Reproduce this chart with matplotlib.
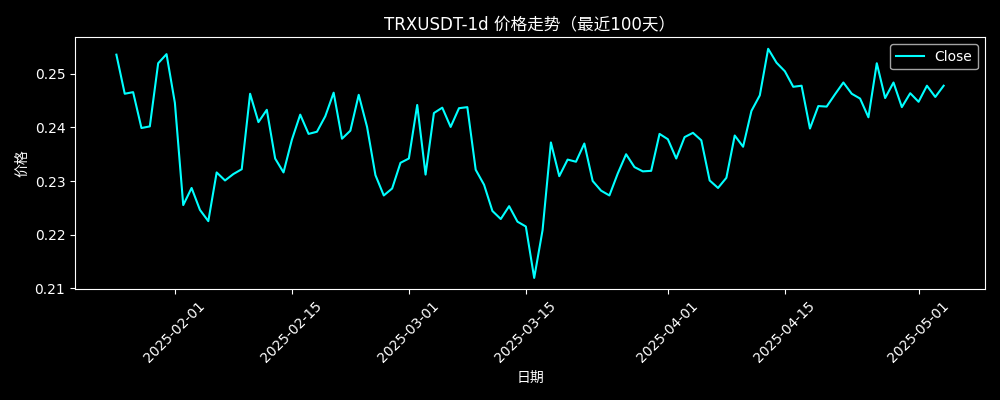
import pandas as pd
import matplotlib
matplotlib.use("Agg")
import matplotlib.pyplot as plt

plt.style.use("dark_background")
plt.rcParams["font.family"] = ["DejaVu Sans", "Noto Sans CJK SC"]

# daily close, 100 days from 2025-01-25
start_date = "2025-01-25"
close = [
    0.2536, 0.2463, 0.2466, 0.2399, 0.2402, 0.2520, 0.2537, 0.2446, 0.2255, 0.2287,
    0.2246, 0.2225, 0.2316, 0.2301, 0.2313, 0.2322, 0.2463, 0.2410, 0.2433, 0.2342,
    0.2316, 0.2377, 0.2424, 0.2388, 0.2392, 0.2421, 0.2465, 0.2379, 0.2394, 0.2461,
    0.2401, 0.2311, 0.2273, 0.2286, 0.2334, 0.2342, 0.2442, 0.2312, 0.2427, 0.2437,
    0.2401, 0.2436, 0.2438, 0.2321, 0.2293, 0.2244, 0.2229, 0.2253, 0.2224, 0.2215,
    0.2119, 0.2208, 0.2372, 0.2309, 0.2340, 0.2336, 0.2370, 0.2300, 0.2282, 0.2273,
    0.2314, 0.2350, 0.2326, 0.2318, 0.2319, 0.2388, 0.2378, 0.2342, 0.2382, 0.2390,
    0.2376, 0.2301, 0.2287, 0.2306, 0.2385, 0.2364, 0.2431, 0.2460, 0.2547, 0.2521,
    0.2505, 0.2476, 0.2478, 0.2398, 0.2440, 0.2439, 0.2462, 0.2484, 0.2463, 0.2454,
    0.2419, 0.2520, 0.2455, 0.2484, 0.2438, 0.2464, 0.2448, 0.2478, 0.2457, 0.2478,
]
dates = pd.date_range(start_date, periods=len(close), freq="D")

fig, ax = plt.subplots(figsize=(10, 4), dpi=100)
ax.plot(dates, close, color="cyan", label="Close")
ax.set_title("TRXUSDT-1d 价格走势（最近100天）")
ax.set_xlabel("日期")
ax.set_ylabel("价格")
ax.legend(loc="upper right")
plt.xticks(rotation=45)
plt.tight_layout()
plt.savefig("out.png", dpi=100)
